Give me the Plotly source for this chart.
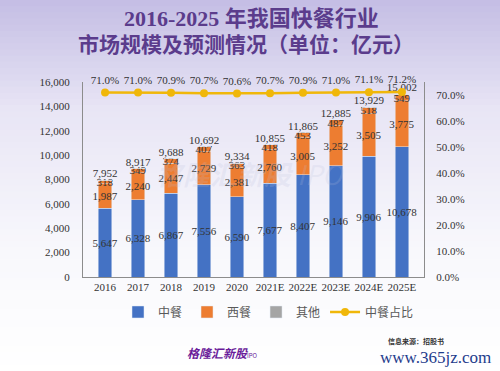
import plotly.graph_objects as go

years = ["2016", "2017", "2018", "2019", "2020", "2021E", "2022E", "2023E", "2024E", "2025E"]
chinese = [5647, 6328, 6867, 7556, 6590, 7677, 8407, 9146, 9906, 10678]
western = [1987, 2240, 2447, 2729, 2381, 2760, 3005, 3252, 3505, 3775]
others = [318, 349, 374, 407, 363, 418, 453, 487, 518, 549]
totals = [7952, 8917, 9688, 10692, 9334, 10855, 11865, 12885, 13929, 15002]
share = [0.710, 0.710, 0.709, 0.707, 0.706, 0.707, 0.709, 0.710, 0.711, 0.712]

W, H = 500, 371
ML, MR, MT, MB = 83, 76, 82, 94
PW, PH = W - ML - MR, H - MT - MB

SERIF = "Liberation Serif, Times New Roman, serif"
CJK = "Noto Sans CJK SC, sans-serif"
lab_font = dict(family=SERIF, size=11, color="#333333")

fig = go.Figure()

bar_common = dict(textposition="inside", insidetextanchor="middle", constraintext="none",
                  textangle=0, textfont=lab_font, cliponaxis=False)
fig.add_trace(go.Bar(x=years, y=chinese, name="中餐", marker_color="#4472C4",
                     text=[f"{v:,}" for v in chinese], **bar_common))
fig.add_trace(go.Bar(x=years, y=western, name="西餐", marker_color="#ED7D31",
                     text=[f"{v:,}" for v in western], **bar_common))
fig.add_trace(go.Bar(x=years, y=others, name="其他", marker_color="#ED7D31",
                     text=[f"{v:,}" for v in others], showlegend=False, **bar_common))
fig.add_trace(go.Bar(x=years, y=[0] * len(years), name="其他", marker_color="#A5A5A5",
                     hoverinfo="skip"))
fig.add_trace(go.Scatter(x=years, y=totals, mode="text", text=[f"{v:,}" for v in totals],
                         textposition="top center", textfont=lab_font, showlegend=False,
                         cliponaxis=False))
fig.add_trace(go.Scatter(x=years, y=share, name="中餐占比", yaxis="y2",
                         mode="lines+markers+text", line=dict(color="#F0B70A", width=2.5),
                         marker=dict(size=8, color="#F0B70A"),
                         text=[f"{v*100:.1f}%" for v in share], textposition="top center",
                         textfont=lab_font, cliponaxis=False))

# background gradient bands
x0, x1 = -ML / PW, 1 + MR / PW
stops = [(0, (196, 189, 228)), (110, (232, 229, 245)), (250, (248, 248, 252)), (371, (255, 255, 255))]
def col(yp):
    for (a, ca), (b, cb) in zip(stops, stops[1:]):
        if a <= yp <= b:
            t = (yp - a) / (b - a)
            return tuple(round(ca[i] + (cb[i] - ca[i]) * t) for i in range(3))
    return stops[-1][1]
shapes = []
N = 60
for i in range(N):
    ya, yb = H * i / N, H * (i + 1) / N + 1
    c = col((ya + yb) / 2)
    shapes.append(dict(type="rect", xref="paper", yref="paper", layer="below",
                       x0=x0, x1=x1, y0=1 + (MT - ya) / PH, y1=1 + (MT - yb) / PH,
                       line=dict(width=0), fillcolor=f"rgb{c}"))

def px2paper(xp, yp):
    return (xp - ML) / PW, 1 - (yp - MT) / PH

ann = []
def add(xp, yp, text, font):
    tx, ty = px2paper(xp, yp)
    ann.append(dict(x=tx, y=ty, xref="paper", yref="paper", showarrow=False,
                    xanchor="center", yanchor="middle", text=text, font=font))

add(251, 18, "<b>2016-2025 年我国快餐行业</b>",
    dict(family="Liberation Serif, Noto Sans CJK SC", size=22, color="#5B3C8C"))
add(246, 45, "<b>市场规模及预测情况（单位：亿元）</b>",
    dict(family="Liberation Serif, Noto Sans CJK SC", size=21, color="#5B3C8C"))
add(250, 173, "<b><i>格隆汇新股</i></b> <i>IPO</i>",
    dict(family=CJK, size=27, color="rgba(185,190,220,0.2)"))
add(222, 352, "<b><i>格隆汇新股</i></b><span style='font-size:6px'>IPO</span>",
    dict(family=CJK, size=12, color="#6A1B9A"))
add(416, 341, "<b>信息来源：招股书</b>", dict(family=CJK, size=7, color="#333333"))
add(435, 357, "www.365jz.com", dict(family=SERIF, size=17, color="#1E3C8C"))

lx, _ = px2paper(118, 0)
fig.update_layout(
    width=W, height=H,
    margin=dict(l=ML, r=MR, t=MT, b=MB, pad=0),
    barmode="stack", bargap=0.58,
    paper_bgcolor="white", plot_bgcolor="rgba(0,0,0,0)",
    showlegend=True,
    legend=dict(orientation="h", x=lx, xanchor="left", y=-0.105, yanchor="top",
                font=dict(family=CJK, size=12, color="#595959"),
                bgcolor="rgba(0,0,0,0)", traceorder="normal"),
    xaxis=dict(showline=True, linecolor="#8C8C8C", linewidth=1, ticks="",
               tickfont=dict(family=SERIF, size=11, color="#333333"), showgrid=False),
    yaxis=dict(range=[0, 16000], dtick=2000, tickformat=",", showline=True,
               linecolor="#8C8C8C", showgrid=False, zeroline=False, ticks="",
               tickfont=dict(family=SERIF, size=11, color="#333333"), ticklabelstandoff=10),
    yaxis2=dict(range=[0, 0.75], tickvals=[0, 0.1, 0.2, 0.3, 0.4, 0.5, 0.6, 0.7],
                tickformat=".1%", overlaying="y", side="right", showline=True,
                linecolor="#8C8C8C", showgrid=False, zeroline=False, ticks="",
                tickfont=dict(family=SERIF, size=11, color="#333333"), ticklabelstandoff=9),
    shapes=shapes, annotations=ann,
)

fig.write_html("out.html", config={"displayModeBar": False},
               post_script="document.body.style.margin='0';document.body.style.overflow='hidden';")
